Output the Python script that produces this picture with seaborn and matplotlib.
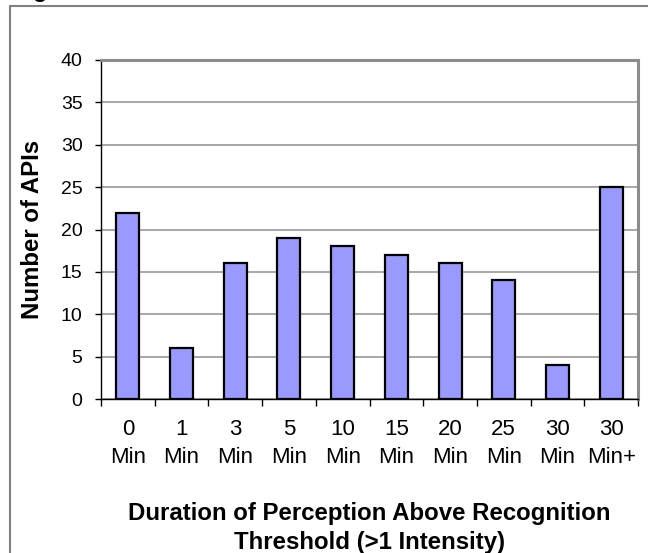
import matplotlib
matplotlib.use("Agg")
import matplotlib.pyplot as plt
import seaborn as sns
import pandas as pd
from matplotlib.lines import Line2D
from matplotlib.ticker import FixedLocator

categories = ["0\nMin", "1\nMin", "3\nMin", "5\nMin", "10\nMin", "15\nMin",
              "20\nMin", "25\nMin", "30\nMin", "30\nMin+"]
counts = [22, 6, 16, 19, 18, 17, 16, 14, 4, 25]
yticks = [0, 5, 10, 15, 20, 25, 30, 35, 40]

sns.set_style("white")
plt.rcParams['font.family'] = ['Liberation Sans', 'DejaVu Sans']
plt.rcParams.update({"text.color": "black", "axes.labelcolor": "black",
                     "xtick.color": "black", "ytick.color": "black"})

df = pd.DataFrame({"cat": categories, "n": counts})

fig = plt.figure(figsize=(6.48, 5.53), dpi=100)
ax = fig.add_axes([101/648, 1 - 399/553, (638 - 101)/648, (399 - 60)/553])

sns.barplot(data=df, x="cat", y="n", color="#9999FF", edgecolor="black",
            linewidth=1.6, width=0.43, saturation=1, ax=ax, zorder=3)

ax.set_ylim(0, 40)
ax.set_xlim(-0.5, len(categories) - 0.5)
ax.set_yticks(yticks)
ax.yaxis.grid(True, color="#a0a0a0", linewidth=1.3, zorder=0)
ax.set_axisbelow(True)

ax.tick_params(axis="y", length=4.3, width=1, color="black", labelcolor="black",
               labelsize=14, pad=9, left=True)
ax.tick_params(axis="x", which="major", length=0, labelsize=16, pad=14.5, labelcolor="black")
ax.xaxis.set_minor_locator(FixedLocator([i - 0.5 for i in range(len(categories) + 1)]))
ax.tick_params(axis="x", which="minor", length=5, width=1, color="black", bottom=True)
for lab in ax.get_xticklabels():
    lab.set_linespacing(1.4)

for s in ["left", "bottom"]:
    ax.spines[s].set_color("black")
    ax.spines[s].set_linewidth(1.0)
for s in ["top", "right"]:
    ax.spines[s].set_color("#8c8c8c")
    ax.spines[s].set_linewidth(2.2)

ax.set_ylabel("Number of APIs", fontsize=17.3, fontweight="bold", labelpad=12, color="black")
ax.set_xlabel("Duration of Perception Above Recognition\nThreshold (>1 Intensity)",
              fontsize=17.3, fontweight="bold", labelpad=25, linespacing=1.3, color="black")

# outer chart border (partially visible)
fig.add_artist(Line2D([10/648, 10/648], [0, 1 - 6/553], transform=fig.transFigure,
                      color="#808080", linewidth=1.5))
fig.add_artist(Line2D([10/648, 1], [1 - 6/553, 1 - 6/553], transform=fig.transFigure,
                      color="#808080", linewidth=1.5))
fig.text(33/648, 1 + 3/553, "g", fontsize=17, fontweight="bold", va="baseline", ha="left")

fig.savefig("out.png", dpi=100)
